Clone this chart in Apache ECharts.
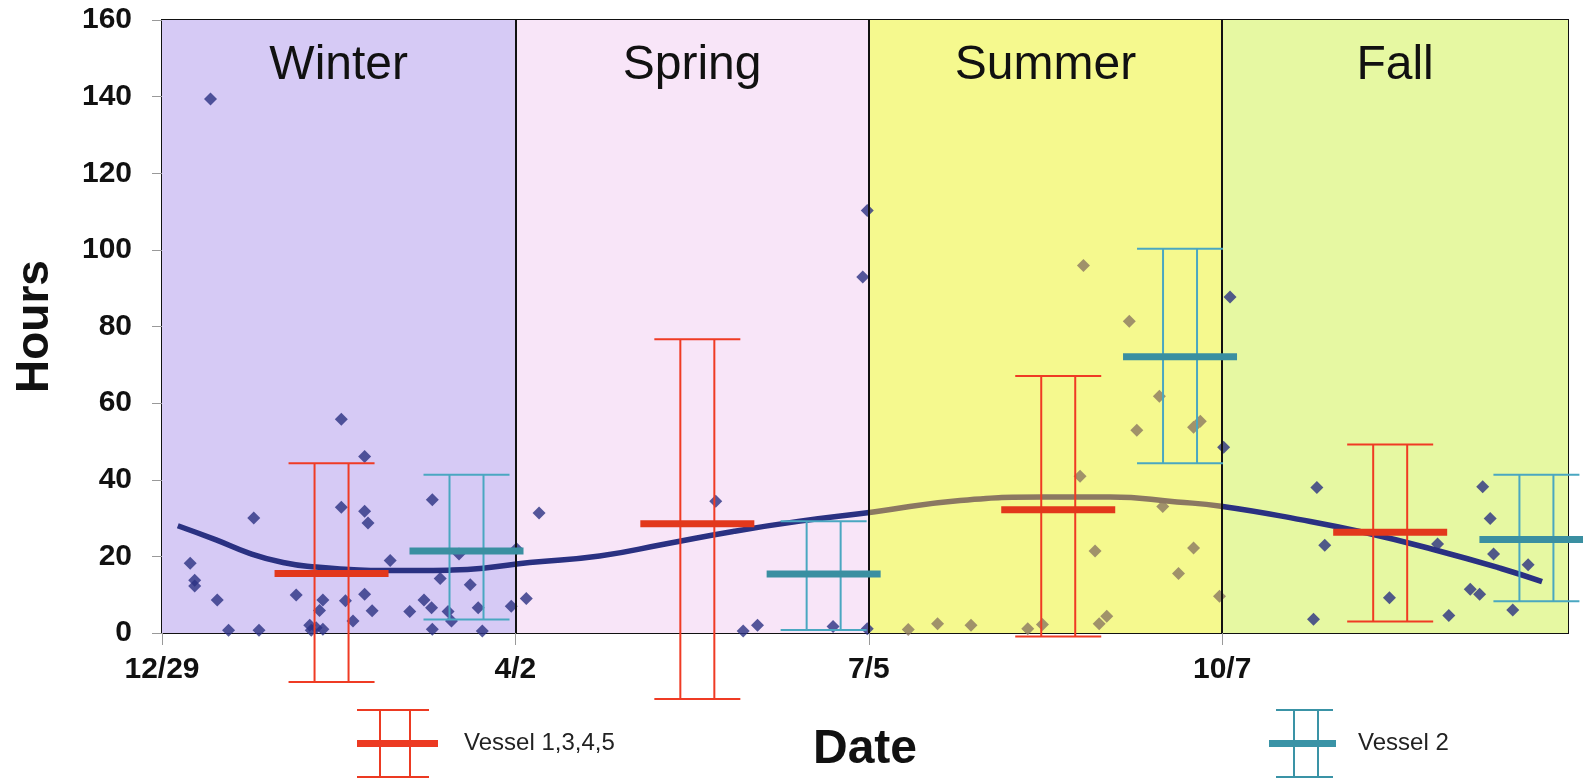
<!DOCTYPE html>
<html lang="en">
<head>
<meta charset="UTF-8">
<title>Hours by date</title>
<script src="https://cdn.jsdelivr.net/npm/echarts@6/dist/echarts.min.js"></script>
<style>
    html, body { margin: 0; padding: 0; background: #fff; }
    #chart { width: 1583px; height: 781px; }
</style>
</head>
<body>
<div id="chart"></div>
<script>
// x values are days counted from 12/29
var tickDays = [0, 94, 188, 282];
var tickLabels = ['12/29', '4/2', '7/5', '10/7'];

var seasons = ['Winter', 'Spring', 'Summer', 'Fall'];
var seasonStart = [0, 94, 188, 282];
var seasonEnd = [94, 188, 282, 374];

// measurements [day, hours]
var points = [
    [7.5, 18.2], [8.7, 13.8], [8.7, 12.3], [12.9, 139.4], [14.7, 8.6], [17.7, 0.7],
    [24.4, 30.0], [25.8, 0.7], [35.7, 9.9], [39.3, 2.0], [39.7, 0.7], [41.0, 1.4],
    [41.9, 5.9], [42.8, 8.6], [42.8, 1.0], [47.7, 55.8], [47.7, 32.8], [48.8, 8.4],
    [50.8, 3.1], [53.9, 46.1], [53.9, 31.8], [54.8, 28.7], [53.9, 10.1], [55.9, 5.8],
    [60.7, 18.9], [65.9, 5.6], [69.7, 8.6], [71.7, 6.6], [71.9, 34.8], [71.9, 1.0],
    [74.0, 14.2], [76.1, 5.6], [77.0, 3.1], [79.0, 20.6], [82.0, 12.6], [84.1, 6.6],
    [85.2, 0.5], [92.9, 7.0], [94.3, 22.0], [96.9, 9.0],
    [100.3, 31.3], [147.3, 34.4], [154.6, 0.5], [158.4, 2.0], [178.5, 1.7],
    [186.4, 92.9], [187.6, 110.3], [187.6, 1.1],
    [198.5, 0.9], [206.3, 2.4], [215.2, 2.0], [230.3, 1.1], [234.2, 2.2],
    [244.2, 40.9], [245.1, 95.9], [248.2, 21.4], [249.3, 2.4], [251.3, 4.4],
    [257.3, 81.4], [259.3, 52.9], [265.3, 61.8], [266.2, 33.0], [270.4, 15.5],
    [274.4, 53.7], [274.4, 22.2], [276.2, 55.3],
    [281.3, 9.6], [282.4, 48.5], [284.1, 87.7],
    [306.3, 3.6], [307.2, 38.0], [309.3, 22.9], [326.5, 9.2], [339.3, 23.2],
    [342.3, 4.6], [348.0, 11.4], [350.5, 10.1], [351.3, 38.2], [353.3, 29.9],
    [354.2, 20.6], [359.3, 6.0], [363.4, 17.8]
];

// trend curve [day, hours]
var trend = [
    [4.2, 28.0], [14.4, 24.3], [23.3, 20.8], [32.2, 18.4], [41.0, 17.2], [49.9, 16.6],
    [58.8, 16.3], [67.7, 16.3], [76.5, 16.4], [85.4, 16.9], [97.8, 18.4], [116.4, 20.1],
    [134.2, 23.3], [151.9, 26.5], [169.7, 29.2], [189.2, 31.6], [212.3, 34.6],
    [234.4, 35.5], [252.2, 35.5], [270.0, 34.2], [281.7, 33.1], [302.8, 29.6],
    [320.5, 26.1], [338.2, 21.8], [356.0, 16.9], [367.1, 13.4]
];

// [day, mean, low, high]
var vessel1345 = [
    [45.1, 15.5, -12.8, 44.3],
    [142.4, 28.5, -17.2, 76.7],
    [238.4, 32.2, -0.9, 67.1],
    [326.7, 26.3, 3.0, 49.2]
];
var vessel2 = [
    [81.0, 21.4, 3.5, 41.3],
    [176.0, 15.4, 0.8, 29.2],
    [270.8, 72.1, 44.3, 100.3],
    [365.6, 24.4, 8.3, 41.3]
];

var seasonColors = ['#d6caf5', '#f8e5f8', '#f5f98e', '#e6f8a2'];
var FONT = '"Liberation Sans", Arial, sans-serif';

function errorBar(lineColor, barColor) {
    return function (params, api) {
        var day = api.value(0);
        var c = api.coord([day, api.value(1)]);
        var lo = api.coord([day, api.value(2)]);
        var hi = api.coord([day, api.value(3)]);
        var x = c[0];
        var thin = { stroke: lineColor, lineWidth: 2 };
        return {
            type: 'group',
            children: [
                { type: 'line', shape: { x1: x - 17, y1: hi[1], x2: x - 17, y2: lo[1] }, style: thin },
                { type: 'line', shape: { x1: x + 17, y1: hi[1], x2: x + 17, y2: lo[1] }, style: thin },
                { type: 'line', shape: { x1: x - 43, y1: hi[1], x2: x + 43, y2: hi[1] }, style: thin },
                { type: 'line', shape: { x1: x - 43, y1: lo[1], x2: x + 43, y2: lo[1] }, style: thin },
                { type: 'line', shape: { x1: x - 57, y1: c[1], x2: x + 57, y2: c[1] }, style: { stroke: barColor, lineWidth: 7 } }
            ]
        };
    };
}

var redIcon = 'path://M0,0h72v2H0z M22,0h2v69h-2z M52,0h2v69h-2z M0,67h72v2H0z M0,31h81v7H0z';
var tealIcon = 'path://M7,0h57v2H7z M24,0h2v69h-2z M48,0h2v69h-2z M7,67h57v2H7z M0,31h67v7H0z';

var chart = echarts.init(document.getElementById('chart'));
chart.setOption({
    animation: false,
    backgroundColor: '#fff',
    textStyle: { fontFamily: FONT },
    grid: {
        left: 162, right: 15, top: 20, bottom: 148,
        show: true, borderColor: '#111', borderWidth: 2
    },
    legend: [{
        data: [{ name: 'Vessel 1,3,4,5', icon: redIcon }],
        left: 357, top: 709, padding: 0, itemWidth: 81, itemHeight: 69,
        selectedMode: false,
        textStyle: { fontSize: 24, color: '#222', fontFamily: FONT, padding: [10, 0, 0, 21] }
    }, {
        data: [{ name: 'Vessel 2', icon: tealIcon }],
        left: 1269, top: 709, padding: 0, itemWidth: 67, itemHeight: 69,
        selectedMode: false,
        textStyle: { fontSize: 24, color: '#222', fontFamily: FONT, padding: [10, 0, 0, 17] }
    }],
    visualMap: {
        type: 'piecewise', show: false, dimension: 0, seriesIndex: [2, 3],
        pieces: [{ gt: 188, lte: 282, color: '#8b7862' }],
        outOfRange: { color: '#2a3182' }
    },
    xAxis: {
        type: 'value', min: 0, max: 374, interval: 94,
        name: 'Date', nameLocation: 'middle', nameGap: 93,
        nameTextStyle: { fontSize: 48, fontWeight: 'bold', color: '#111', fontFamily: FONT },
        axisLine: { lineStyle: { color: '#111', width: 2 } },
        axisTick: { show: true, customValues: tickDays, length: 12, lineStyle: { color: '#999' } },
        axisLabel: {
            customValues: tickDays, margin: 22, fontSize: 30, fontWeight: 'bold', color: '#111',
            formatter: function (v) {
                var i = tickDays.indexOf(v);
                return i >= 0 ? tickLabels[i] : '';
            }
        },
        splitLine: { show: false }
    },
    yAxis: {
        type: 'value', min: 0, max: 160, interval: 20,
        name: 'Hours', nameLocation: 'middle', nameGap: 104, nameRotate: 90,
        nameTextStyle: { fontSize: 46, fontWeight: 'bold', color: '#111', fontFamily: FONT },
        axisLine: { show: true, lineStyle: { color: '#111', width: 2 } },
        axisTick: { show: true, length: 10, lineStyle: { color: '#999' } },
        axisLabel: { margin: 30, fontSize: 30, fontWeight: 'bold', color: '#111' },
        splitLine: { lineStyle: { color: 'rgba(110, 90, 120, 0.3)', width: 1 } }
    },
    series: [{
        // season bands
        type: 'scatter', data: [], z: -1, silent: true,
        markArea: {
            silent: true,
            label: {
                show: true, position: 'insideTop', distance: 22,
                fontSize: 48, color: '#111', fontFamily: FONT
            },
            data: seasons.map(function (s, i) {
                return [
                    { name: s, xAxis: seasonStart[i], itemStyle: { color: seasonColors[i] } },
                    { xAxis: seasonEnd[i] }
                ];
            })
        }
    }, {
        // season separators
        type: 'scatter', data: [], z: 1, silent: true,
        markLine: {
            silent: true, symbol: 'none', label: { show: false },
            lineStyle: { color: '#111', width: 2, type: 'solid' },
            data: seasonStart.slice(1).map(function (d) { return { xAxis: d }; })
        }
    }, {
        name: 'Measurements',
        type: 'scatter',
        data: points,
        symbol: 'diamond',
        symbolSize: 13,
        z: 3
    }, {
        name: 'Trend',
        type: 'line',
        data: trend,
        smooth: true,
        showSymbol: false,
        lineStyle: { width: 5.5 },
        z: 4
    }, {
        name: 'Vessel 1,3,4,5',
        type: 'custom',
        data: vessel1345,
        encode: { x: 0, y: 1 },
        itemStyle: { color: '#ec3a22' },
        renderItem: errorBar('#ef3b24', '#e2381c'),
        clip: false,
        z: 5
    }, {
        name: 'Vessel 2',
        type: 'custom',
        data: vessel2,
        encode: { x: 0, y: 1 },
        itemStyle: { color: '#3a93a6' },
        renderItem: errorBar('#4aa7c1', '#3a8fa1'),
        clip: false,
        z: 5
    }]
});
</script>
</body>
</html>
